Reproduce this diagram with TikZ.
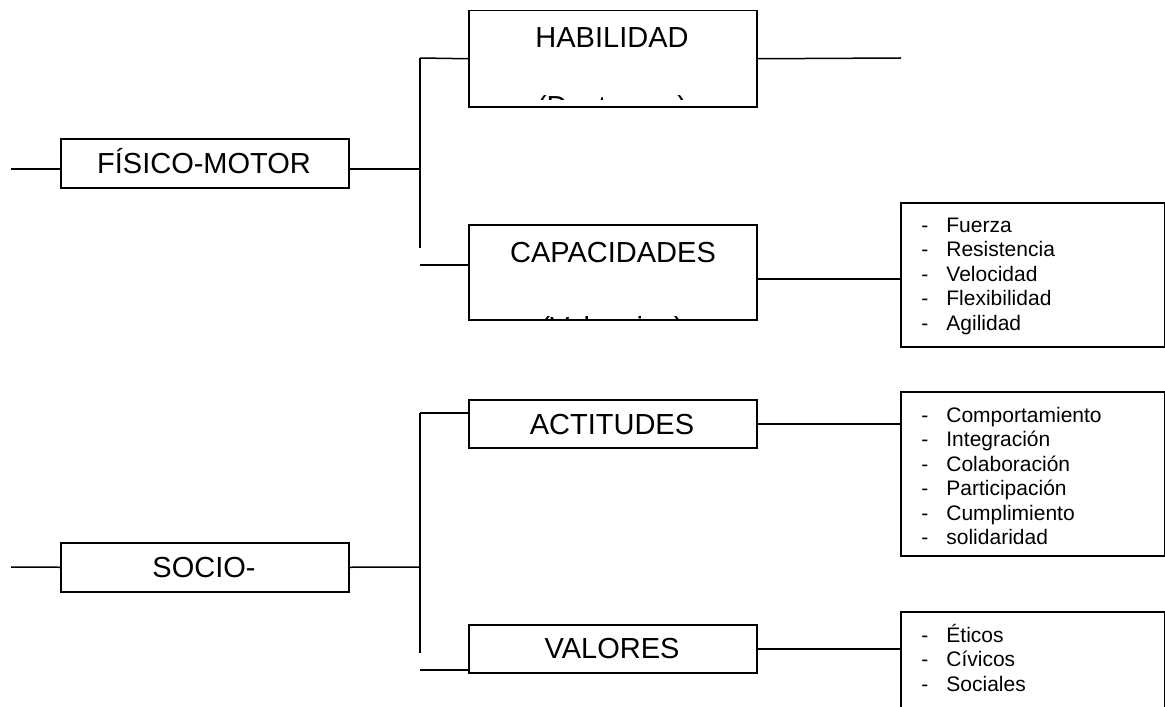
\documentclass[tikz,border=0pt]{standalone}
\usepackage{fontspec}
\setmainfont{Liberation Sans}
\usepackage{tikz}
\tikzset{
    caja/.style={draw, line width=0.75pt, anchor=north west, minimum width=144pt, inner sep=0pt},
    lista/.style={draw, line width=0.75pt, anchor=north west, minimum width=132pt, inner sep=0pt},
    rotulo/.style={anchor=base, inner sep=0pt, font=\fontsize{14.5}{17}\selectfont},
    item/.style={anchor=base west, inner sep=0pt, font=\fontsize{10.5}{12}\selectfont},
    linea/.style={line width=0.75pt}
}
\newcommand{\guion}{\makebox[12.5pt][l]{-}}

\begin{document}
\begin{tikzpicture}[x=0.5pt, y=-0.5pt]
            \useasboundingbox (0,0) rectangle (1165,706);
            \clip (0,0) rectangle (1165,706);
            \node[caja, minimum height=24.5pt] (fm) at (60,138) {};
            \node[caja, minimum height=48pt] (hab) at (468,10) {};
            \node[caja, minimum height=47.5pt] (cap) at (468,224) {};
            \node[lista, minimum height=72pt] (lcap) at (900,202) {};
            \node[caja, minimum height=24.5pt] (so) at (60,542) {};
            \node[caja, minimum height=24pt] (act) at (468,399) {};
            \node[caja, minimum height=24pt] (val) at (468,624) {};
            \node[lista, minimum height=82pt] (lact) at (900,391) {};
            \node[lista, minimum height=48pt] (lval) at (900,611) {};
            \node[rotulo] (tfm) at (204,173.5) {FÍSICO-MOTOR};
            \node[rotulo] (thab) at (612,48) {HABILIDAD};
            \node[rotulo] (tcap) at (613,262) {CAPACIDADES};
            \node[rotulo] (tso) at (204,577) {SOCIO-};
            \node[rotulo] (tact) at (612,434.5) {ACTITUDES};
            \node[rotulo] (tval) at (612,658.5) {VALORES};
            \begin{scope}
                \clip (469,11) rectangle (755,100);
                \node[rotulo] (tdes) at (612,116) {(Destrezas)};
            \end{scope}
            \begin{scope}
                \clip (469,225) rectangle (755,318);
                \node[rotulo] (tvalen) at (612,337) {(Valencias)};
            \end{scope}
            \coordinate (fmizq) at (11,169);
            \coordinate (fmbus) at (420,169);
            \coordinate (fmarr) at (420,58);
            \coordinate (fmaba) at (420,248);
            \coordinate (capin) at (420,265);
            \coordinate (habfin) at (901,58);
            \coordinate (capout) at (900,279);
            \draw[linea] (fmizq) -- (fmizq -| fm.west);
            \draw[linea] (fmbus -| fm.east) -- (fmbus);
            \draw[linea] (fmarr) -- (fmaba);
            \draw[linea] (fmarr) -- (hab.west);
            \draw[linea] (capin) -- (capin -| cap.west);
            \draw[linea] (hab.east) -- (habfin);
            \draw[linea] (capout -| cap.east) -- (capout -| lcap.west);
            \coordinate (soizq) at (11,567);
            \coordinate (sobus) at (420,567);
            \coordinate (soarr) at (420,413);
            \coordinate (soaba) at (420,653);
            \coordinate (valin) at (420,670);
            \draw[linea] (soizq) -- (so.west);
            \draw[linea] (so.east) -- (sobus);
            \draw[linea] (soarr) -- (soaba);
            \draw[linea] (soarr) -- (soarr -| act.west);
            \draw[linea] (valin) -- (valin -| val.west);
            \draw[linea] (act.east) -- (act.east -| lact.west);
            \draw[linea] (val.east) -- (val.east -| lval.west);
            \node[item] (i1) at (921,232) {\guion Fuerza};
            \node[item] (i2) at (921,256.5) {\guion Resistencia};
            \node[item] (i3) at (921,281) {\guion Velocidad};
            \node[item] (i4) at (921,305.5) {\guion Flexibilidad};
            \node[item] (i5) at (921,330) {\guion Agilidad};
            \node[item] (a1) at (921,422) {\guion Comportamiento};
            \node[item] (a2) at (921,446.5) {\guion Integración};
            \node[item] (a3) at (921,471) {\guion Colaboración};
            \node[item] (a4) at (921,495.5) {\guion Participación};
            \node[item] (a5) at (921,520) {\guion Cumplimiento};
            \node[item] (a6) at (921,544.5) {\guion solidaridad};
            \node[item] (v1) at (921,642) {\guion Éticos};
            \node[item] (v2) at (921,666.5) {\guion Cívicos};
            \node[item] (v3) at (921,691) {\guion Sociales};
        \end{tikzpicture}
\end{document}
